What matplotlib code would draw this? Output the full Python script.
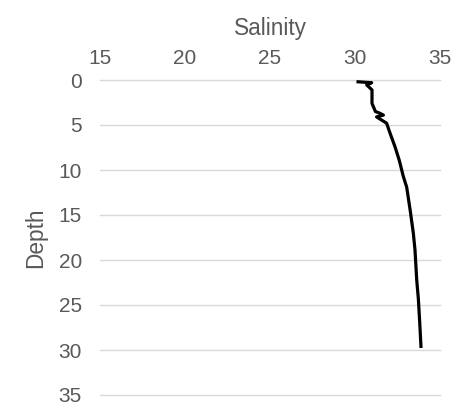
import matplotlib
matplotlib.use("Agg")
import matplotlib.pyplot as plt

# salinity profile
salinity = [30.18, 30.98, 30.69, 31.0, 31.0, 31.2, 31.47, 31.67, 31.27, 31.86,
            32.06, 32.35, 32.6, 32.84, 33.04, 33.24, 33.43, 33.53, 33.63,
            33.73, 33.82, 33.88]
depth = [0.2, 0.3, 0.55, 1.1, 2.6, 3.5, 3.7, 3.9, 4.1, 4.8,
         5.9, 7.4, 8.9, 10.7, 11.9, 14.4, 17.0, 18.9, 22.2,
         24.4, 27.4, 29.6]

x_ticks = [15, 20, 25, 30, 35]
y_ticks = [0, 5, 10, 15, 20, 25, 30, 35]

plt.rcParams['font.family'] = ['Liberation Sans', 'DejaVu Sans']
text_color = '#595959'

fig = plt.figure(figsize=(4.56, 4.04), dpi=100)
ax = fig.add_axes([100 / 456, 1 - 395 / 404, 340 / 456, 315 / 404])

ax.plot(salinity, depth, color='black', linewidth=2.3)

ax.set_xlim(15, 35)
ax.set_ylim(35, 0)
ax.set_xticks(x_ticks)
ax.set_yticks(y_ticks)
ax.xaxis.tick_top()
ax.xaxis.set_label_position('top')
ax.tick_params(axis='both', length=0, labelsize=15, colors=text_color)
ax.tick_params(axis='x', pad=9)
ax.tick_params(axis='y', pad=13)
ax.set_xlabel('Salinity', fontsize=16.3, color=text_color, labelpad=10)
ax.set_ylabel('Depth', fontsize=16.3, color=text_color, labelpad=8)

ax.grid(axis='y', color='#d9d9d9', linewidth=1)
ax.set_axisbelow(True)
for line in ax.get_ygridlines():
    line.set_clip_on(False)
for s in ax.spines.values():
    s.set_visible(False)

plt.savefig('out.png', dpi=100)
